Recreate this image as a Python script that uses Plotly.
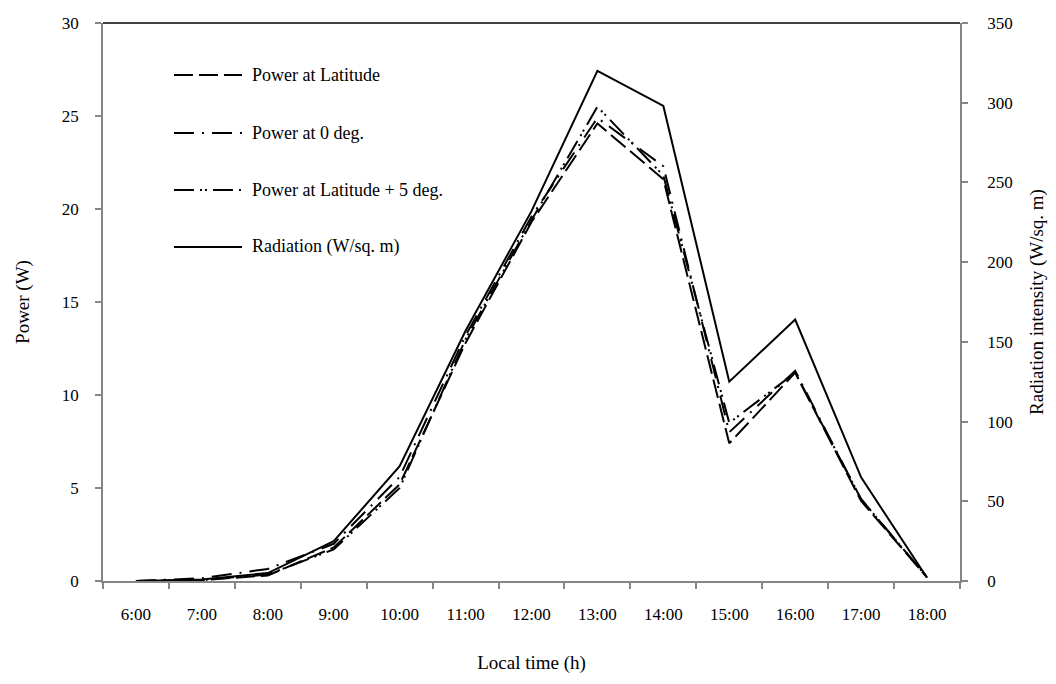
import plotly.graph_objects as go

times = ["6:00", "7:00", "8:00", "9:00", "10:00", "11:00", "12:00",
         "13:00", "14:00", "15:00", "16:00", "17:00", "18:00"]
power_latitude = [0.0, 0.05, 0.3, 1.8, 5.2, 12.8, 19.3, 24.6, 21.6, 7.4, 11.2, 4.3, 0.2]
power_zero = [0.0, 0.15, 0.65, 2.0, 5.6, 13.2, 19.6, 24.9, 22.3, 8.0, 11.3, 4.4, 0.2]
power_lat5 = [0.0, 0.05, 0.35, 1.7, 5.0, 13.0, 19.4, 25.5, 21.8, 8.5, 11.2, 4.4, 0.2]
radiation = [0, 1, 5, 25, 72, 157, 232, 320, 298, 125, 164, 65, 2]

series_names = ["Power at Latitude", "Power at 0 deg.",
                "Power at Latitude + 5 deg.", "Radiation (W/sq. m)"]
dashes = ["19px,6px", "20px,8px,2px,8px", "20px,6px,2px,3px,2px,6px", "solid"]

FONT = "Liberation Serif, Times New Roman, serif"
AX = "#868686"

fig = go.Figure()
for vals, name, dash, yax in zip([power_latitude, power_zero, power_lat5, radiation],
                                 series_names, dashes, ["y", "y", "y", "y2"]):
    fig.add_trace(go.Scatter(x=times, y=vals, name=name, mode="lines", yaxis=yax,
                             line=dict(color="black", width=2, dash=dash)))

# Manual legend (long line samples like the original)
leg_y = [0.9068, 0.8029, 0.7007, 0.5986]
shapes = [dict(type="line", xref="paper", yref="paper", x0=0, x1=1,
               y0=1, y1=1, line=dict(color="black", width=1.5))]
annotations = []
for name, dash, yy in zip(series_names, dashes, leg_y):
    shapes.append(dict(type="line", xref="paper", yref="paper",
                       x0=0.0828, x1=0.1622, y0=yy, y1=yy,
                       line=dict(color="black", width=2, dash=dash)))
    annotations.append(dict(text=name, xref="paper", yref="paper", x=0.1715, y=yy,
                            xanchor="left", yanchor="middle", showarrow=False,
                            font=dict(family=FONT, size=18, color="black")))

fig.update_layout(
    width=1040, height=668,
    margin=dict(l=95, r=88, t=15, b=95, autoexpand=False),
    paper_bgcolor="white", plot_bgcolor="white",
    font=dict(family=FONT, size=17, color="black"),
    showlegend=False,
    xaxis=dict(type="category", range=[-0.5, 12.5], tickson="boundaries",
               automargin=False,
               ticks="outside", ticklen=6, tickcolor=AX, tickwidth=1.5,
               showline=True, linecolor=AX, linewidth=1.5, showgrid=False,
               zeroline=False, ticklabelstandoff=17,
               tickfont=dict(family=FONT, size=17),
               title=dict(text="Local time (h)", standoff=33,
                          font=dict(family=FONT, size=19))),
    yaxis=dict(range=[0, 30], dtick=5, ticks="outside", ticklen=6,
               automargin=False,
               tickcolor=AX, tickwidth=1.5, showline=True, linecolor=AX,
               linewidth=1.5, showgrid=False, zeroline=False,
               ticklabelstandoff=13, tickfont=dict(family=FONT, size=17),
               title=dict(text="Power (W)", standoff=27,
                          font=dict(family=FONT, size=19))),
    yaxis2=dict(range=[0, 350], dtick=50, overlaying="y", side="right",
                automargin=False,
                ticks="outside", ticklen=6, tickcolor=AX, tickwidth=1.5,
                showline=True, linecolor=AX, linewidth=1.5, showgrid=False,
                zeroline=False, ticklabelstandoff=16,
                tickfont=dict(family=FONT, size=17),
                title=dict(text="Radiation intensity (W/sq. m)", standoff=28,
                           font=dict(family=FONT, size=19))),
    shapes=shapes,
    annotations=annotations,
)

fig.write_html("out.html")
